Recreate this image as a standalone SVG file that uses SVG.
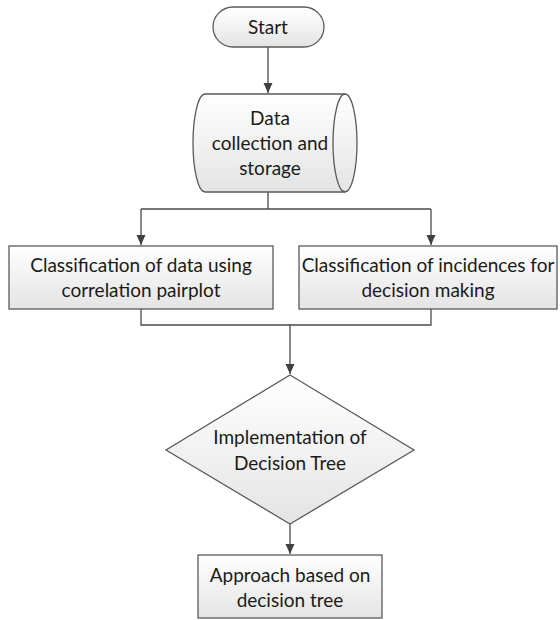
<svg xmlns="http://www.w3.org/2000/svg" width="560" height="620" viewBox="0 0 560 620">
<defs>
<linearGradient id="g" x1="0" y1="0" x2="0" y2="1">
<stop offset="0" stop-color="#ffffff"/>
<stop offset="1" stop-color="#e4e4e4"/>
</linearGradient>
<marker id="ah" markerWidth="12" markerHeight="12" refX="10" refY="5.5" orient="auto" markerUnits="userSpaceOnUse">
<path d="M0,1 L10,5.5 L0,10 Z" fill="#404040"/>
</marker>
</defs>
<style>
.shape{fill:url(#g);stroke:#5a5a5a;stroke-width:1.3}
.t{font-family:Lato,"Open Sans","Liberation Sans",sans-serif;font-size:19px;fill:#1a1a1a;text-anchor:middle}
.c{fill:none;stroke:#4a4a4a;stroke-width:1.3}
</style>
<rect width="560" height="620" fill="#ffffff"/>
<g id="connectors">
<path class="c" d="M268,47 V93" marker-end="url(#ah)"/>
<path class="c" d="M268,192 V209"/>
<path class="c" d="M141,209 H431"/>
<path class="c" d="M141,209 V245" marker-end="url(#ah)"/>
<path class="c" d="M431,209 V245" marker-end="url(#ah)"/>
<path class="c" d="M141,309 V325 H431 V309"/>
<path class="c" d="M290,325 V374" marker-end="url(#ah)"/>
<path class="c" d="M290,524 V554" marker-end="url(#ah)"/>
</g>
<g id="start">
<rect class="shape" x="213" y="7" width="111" height="40" rx="20" ry="20"/>
<text class="t" x="268" y="34">Start</text>
</g>
<g id="data">
<path class="shape" d="M205,94 L345,94 A12,49 0 0 1 345,192 L205,192 A12,49 0 0 1 205,94 Z"/>
<path class="c" d="M345,94 A12,49 0 0 0 345,192" style="stroke:#5a5a5a"/>
<text class="t" x="270" y="125">Data</text>
<text class="t" x="270" y="150">collection and</text>
<text class="t" x="270" y="175">storage</text>
</g>
<g id="classify-data">
<rect class="shape" x="9" y="246" width="264" height="63"/>
<text class="t" x="141" y="272">Classification of data using</text>
<text class="t" x="141" y="297">correlation pairplot</text>
</g>
<g id="classify-incidences">
<rect class="shape" x="299" y="246" width="258" height="63"/>
<text class="t" x="428" y="272">Classification of incidences for</text>
<text class="t" x="428" y="297">decision making</text>
</g>
<g id="decision">
<path class="shape" d="M290,375 L414,450 L290,524 L166,450 Z"/>
<text class="t" x="290" y="444">Implementation of</text>
<text class="t" x="290" y="470">Decision Tree</text>
</g>
<g id="approach">
<rect class="shape" x="198" y="555" width="184" height="63"/>
<text class="t" x="290" y="582">Approach based on</text>
<text class="t" x="290" y="607">decision tree</text>
</g>
</svg>
